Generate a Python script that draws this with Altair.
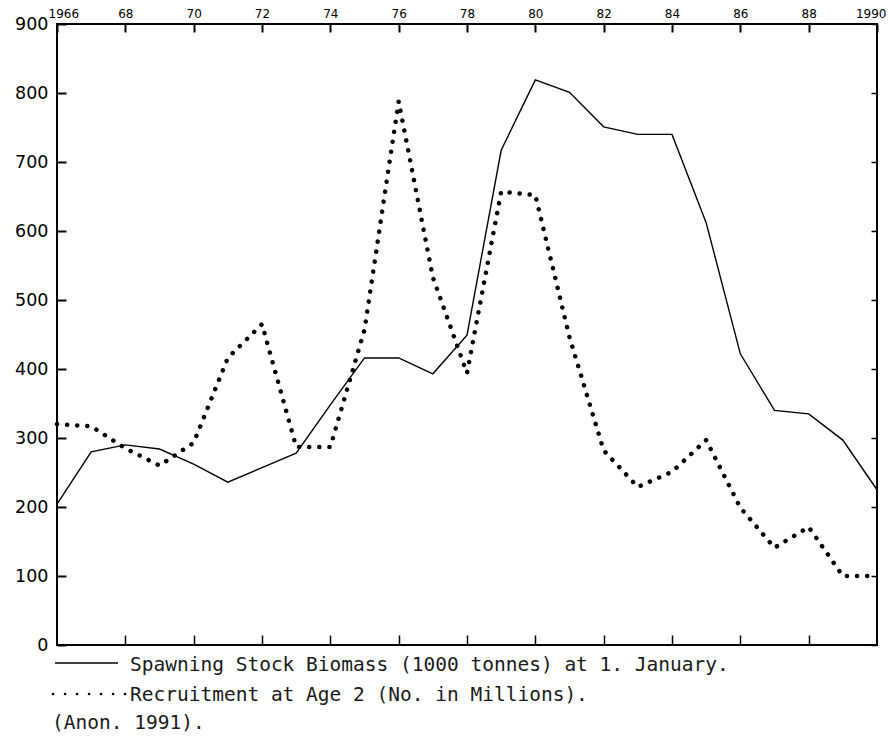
import altair as alt
import pandas as pd

years = list(range(1966, 1991))
ssb = [204, 280, 290, 284, 262, 236, 257, 278, 348, 416, 416, 393, 449,
       717, 819, 801, 751, 740, 740, 612, 422, 340, 335, 297, 225]
recruit = [320, 317, 285, 260, 293, 416, 465, 287, 287, 457, 788, 533, 394,
           657, 652, 446, 282, 229, 251, 297, 199, 141, 171, 100, 100]
x_ticks = [1966, 1968, 1970, 1972, 1974, 1976, 1978, 1980, 1982, 1984, 1986, 1988, 1990]
y_ticks = [0, 100, 200, 300, 400, 500, 600, 700, 800, 900]
legend_lines = [
    "Spawning Stock Biomass (1000 tonnes) at 1. January.",
    "Recruitment at Age 2 (No. in Millions).",
    "(Anon. 1991).",
]

df = pd.DataFrame({"year": years, "ssb": ssb, "recruit": recruit})

xscale = alt.Scale(domain=[1966, 1990], nice=False, zero=False)
yscale = alt.Scale(domain=[0, 900], nice=False, zero=True)

base = alt.Chart(df)

ssb_line = base.mark_line(color="black", strokeWidth=1.4).encode(
    x=alt.X("year:Q", scale=xscale, title=None,
            axis=alt.Axis(orient="top", values=x_ticks, format="d",
                          labelExpr="(datum.value == 1966 || datum.value == 1990) ? datum.label : substring(datum.label, 2, 4)",
                          offset=-8, tickSize=8, tickWidth=2, domain=False, grid=False,
                          labelPadding=4, labelFont="DejaVu Sans", labelFontSize=12,
                          labelFlush=True, labelFlushOffset=9, labelOverlap=False,
                          labelColor="black", tickColor="black")),
    y=alt.Y("ssb:Q", scale=yscale, title=None,
            axis=alt.Axis(orient="left", values=y_ticks, offset=-9, tickSize=9, tickWidth=2,
                          domain=False, grid=False, labelPadding=9,
                          labelFont="DejaVu Sans", labelFontSize=17.5, labelOverlap=False,
                          labelColor="black", tickColor="black")),
)

rec_line = base.mark_line(color="black", strokeWidth=4.5, strokeCap="round",
                          strokeDash=[0.1, 10]).encode(
    x=alt.X("year:Q", scale=xscale, title=None,
            axis=alt.Axis(orient="bottom", values=x_ticks[1:-1], labels=False,
                          offset=-10, tickSize=10, tickWidth=1.5, domain=False, grid=False,
                          tickColor="black")),
    y=alt.Y("recruit:Q", scale=yscale, title=None,
            axis=alt.Axis(orient="right", values=y_ticks, labels=False,
                          offset=-6, tickSize=6, tickWidth=1.5, domain=False, grid=False,
                          tickColor="black")),
)

one = alt.Chart(pd.DataFrame({"t": [legend_lines[0]]}))
two = alt.Chart(pd.DataFrame({"t": [legend_lines[1]]}))
three = alt.Chart(pd.DataFrame({"t": [legend_lines[2]]}))

leg_solid = one.mark_rule(color="black", strokeWidth=1.5).encode(
    x=alt.value(-2), x2=alt.value(61), y=alt.value(639))
leg_dot = two.mark_rule(color="black", strokeWidth=2.6, strokeCap="round",
                        strokeDash=[0.1, 11.9]).encode(
    x=alt.value(-4), x2=alt.value(69), y=alt.value(670))

txt_style = dict(font="DejaVu Sans Mono", fontSize=19.5, align="left",
                 baseline="middle", color="#1a1a1a")
t1 = one.mark_text(**txt_style).encode(x=alt.value(73), y=alt.value(641), text="t:N")
t2 = two.mark_text(**txt_style).encode(x=alt.value(73), y=alt.value(671), text="t:N")
t3 = three.mark_text(**txt_style).encode(x=alt.value(-5), y=alt.value(699), text="t:N")

chart = alt.layer(ssb_line, rec_line, leg_solid, leg_dot, t1, t2, t3).resolve_axis(
    x="independent", y="independent"
).properties(
    width=820, height=621,
    autosize=alt.AutoSizeParams(type="none"),
    padding={"left": 49, "top": 16, "right": 9, "bottom": 90},
).configure_view(stroke="black", strokeWidth=2)

chart.save("out.html", embed_options={"renderer": "svg", "actions": False})
